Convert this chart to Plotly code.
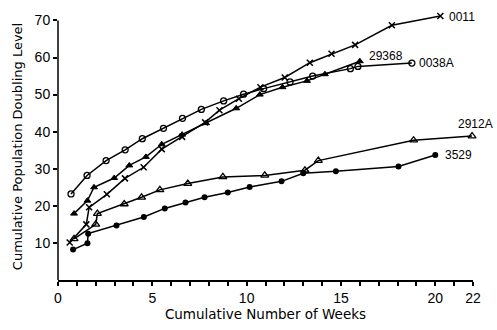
import plotly.graph_objects as go

# Series data (weeks, cumulative population doubling level)
x_0011 = [0.62, 1.5, 1.65, 2.59, 3.55, 4.54, 5.5, 6.58, 7.8, 8.56, 9.59, 10.73, 12.02, 13.35, 14.5, 15.75, 17.7, 20.27]
y_0011 = [10.1, 15.0, 19.6, 23.1, 27.4, 30.4, 35.3, 38.6, 42.5, 45.8, 48.9, 52.0, 54.6, 58.6, 61.0, 63.4, 68.7, 71.2]

x_2936 = [0.85, 1.56, 1.91, 2.98, 3.78, 4.66, 5.5, 6.58, 7.85, 9.45, 10.7, 11.9, 13.2, 14.15, 16.0]
y_2936 = [17.9, 21.4, 25.0, 27.5, 30.9, 33.2, 36.6, 39.2, 42.3, 46.3, 50.0, 52.0, 53.7, 55.5, 59.0]

x_0038 = [0.69, 1.54, 2.55, 3.56, 4.47, 5.59, 6.6, 7.6, 8.78, 9.84, 10.9, 12.3, 13.5, 15.5, 15.9, 18.76]
y_0038 = [23.2, 28.2, 32.2, 35.1, 38.1, 40.9, 43.6, 46.0, 48.3, 50.1, 51.6, 53.4, 55.0, 57.0, 57.6, 58.5]

x_2912 = [0.85, 2.0, 2.09, 3.51, 4.43, 5.4, 6.88, 8.74, 10.96, 13.09, 13.8, 18.85, 21.95]
y_2912 = [11.1, 15.0, 17.9, 20.5, 22.3, 24.3, 26.0, 27.8, 28.2, 29.6, 32.2, 37.7, 38.8]

x_3529 = [0.8, 1.56, 1.6, 3.1, 4.55, 5.66, 6.76, 7.77, 9.0, 10.16, 11.85, 13.0, 14.73, 18.05, 20.0]
y_3529 = [8.2, 9.9, 12.5, 14.7, 17.0, 19.3, 20.9, 22.3, 23.6, 25.1, 26.6, 28.8, 29.3, 30.6, 33.7]

labels = ["0011", "29368", "0038A", "3529"]
label_x = [20.5, 16.3, 18.95, 20.3]
label_y = [71.0, 60.4, 58.5, 33.6]
label_2912 = "2912A"
label_2912_y = 42.0

x_tick_vals = [0, 5, 10, 15, 20, 22]
y_tick_vals = [10, 20, 30, 40, 50, 60, 70]

FONT = "Liberation Sans"
TFONT = "DejaVu Sans"
line = dict(color="black", width=1.5)

fig = go.Figure()
series = [
    (x_0011, y_0011, dict(symbol="x-thin", size=6, color="black", line=dict(color="black", width=1.5))),
    (x_2936, y_2936, dict(symbol="triangle-up", size=6, color="black", line=dict(color="black", width=1))),
    (x_0038, y_0038, dict(symbol="circle-open", size=6, color="black", line=dict(color="black", width=1.3))),
    (x_2912, y_2912, dict(symbol="triangle-up-open", size=7, color="black", line=dict(color="black", width=1.3))),
    (x_3529, y_3529, dict(symbol="circle", size=6, color="black")),
]
for xs, ys, mk in series:
    fig.add_trace(go.Scatter(x=xs, y=ys, mode="lines+markers", line=line, marker=mk,
                             showlegend=False, cliponaxis=False))

for t, lx, ly in zip(labels, label_x, label_y):
    fig.add_annotation(x=lx, y=ly, text=t, showarrow=False, xanchor="left", yanchor="middle",
                       xshift=2, font=dict(family=FONT, size=12, color="black"))
# label placed past the right end of the axis (paper x beyond 1)
fig.add_annotation(x=1.0, xref="paper", y=label_2912_y, yref="y", text=label_2912, showarrow=False,
                   xanchor="right", yanchor="middle", xshift=22,
                   font=dict(family=FONT, size=12, color="black"))

# y axis line spans 0..70 only
fig.add_shape(type="line", xref="paper", yref="y", x0=0, x1=0, y0=0, y1=70,
              line=dict(color="black", width=1.5))

fig.update_layout(
    width=497, height=330,
    margin=dict(l=58, r=24, t=13, b=43),
    plot_bgcolor="white", paper_bgcolor="white",
    font=dict(family=FONT, size=13, color="black"),
)
fig.update_xaxes(
    range=[0, 22], tickvals=x_tick_vals, ticktext=[str(v) for v in x_tick_vals],
    showline=True, linecolor="black", linewidth=1.5, ticks="outside", ticklen=4,
    tickcolor="black", tickwidth=1.5, showgrid=False, zeroline=False,
    minor=dict(dtick=1, tick0=0, ticks="outside", ticklen=4, tickcolor="black", tickwidth=1.5, showgrid=False),
    tickfont=dict(size=14),
    title=dict(text="Cumulative Number of Weeks", font=dict(family=TFONT, size=13.5), standoff=3),
)
fig.update_yaxes(
    range=[0, 72], tickvals=y_tick_vals,
    showline=False, ticks="outside", ticklen=4,
    tickcolor="black", tickwidth=1.5, showgrid=False, zeroline=False,
    tickfont=dict(size=14),
    title=dict(text="Cumulative Population Doubling Level", font=dict(family=TFONT, size=13), standoff=9),
)
fig.write_html("out.html", config={"displayModeBar": False},
               post_script="document.body.style.margin='0';document.body.style.overflow='hidden';")
